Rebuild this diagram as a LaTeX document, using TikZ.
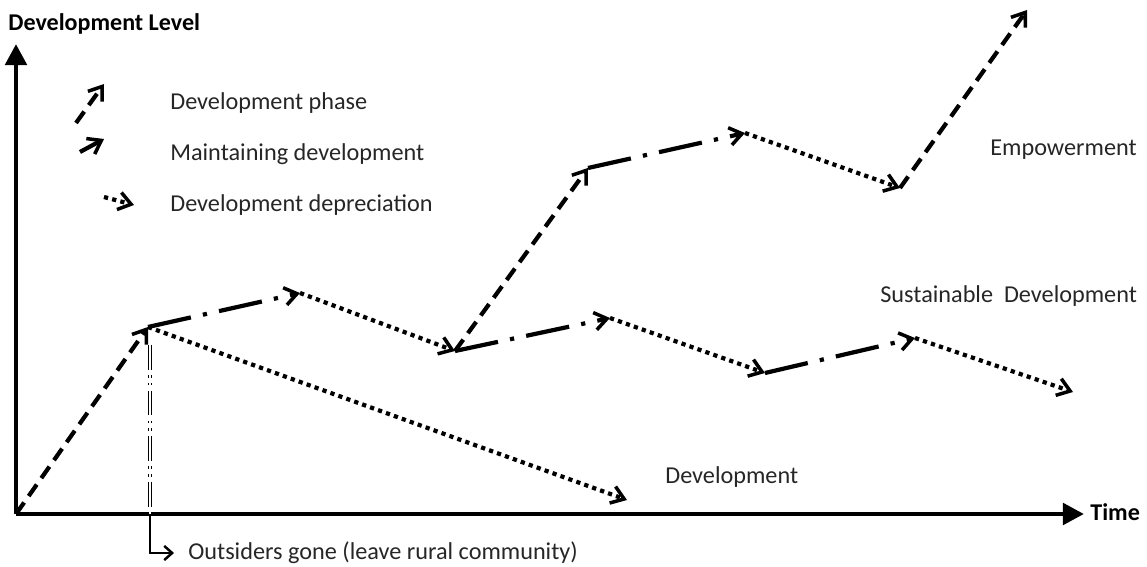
\documentclass[tikz,border=0pt]{standalone}
\usepackage{fontspec}
\setmainfont{Carlito}
\usetikzlibrary{arrows.meta}
\tikzset{
  tip/.style={-{Straight Barb[length=7pt,width=10pt,line width=2pt]}},
  phase/.style={line width=2.4pt, dash pattern=on 8pt off 4.5pt, tip},
  keep/.style={line width=2.4pt, dash pattern=on 25pt off 7pt on 2.4pt off 7pt, tip},
  loss/.style={line width=2.4pt, dash pattern=on 2.4pt off 2.4pt, tip},
  axis/.style={line width=2.8pt, -{Triangle[length=12pt,width=12pt]}},
  lbl/.style={anchor=west, inner sep=0pt, text=black!85, font=\fontsize{13.8}{16}\selectfont},
  axlbl/.style={anchor=west, inner sep=0pt, font=\bfseries\fontsize{13.7}{16}\selectfont}
}
\begin{document}
\begin{tikzpicture}[x=0.02cm, y=-0.02cm]
        \useasboundingbox (0,0) rectangle (1147,567);
        % Define points
        \coordinate (O) at (16,514);
        \coordinate (A) at (148,327);
        \coordinate (A1) at (300,293);
        \coordinate (B) at (455,351);
        \coordinate (C) at (588,168);
        \coordinate (D) at (745,133);
        \coordinate (E) at (900,188);
        \coordinate (F) at (1027,10);
        \coordinate (G) at (610,318);
        \coordinate (H) at (765,373);
        \coordinate (I) at (915,338);
        \coordinate (J) at (1073,392);
        \coordinate (K) at (627,500);
        \coordinate (Ytop) at (16,44);
        \coordinate (Xend) at (1084,514);
        \coordinate (Gone) at (150,345);
        \coordinate (GoneAx) at (150,514);
        \coordinate (GoneLow) at (150,553);
        \coordinate (GoneEnd) at (174,553);

        % Draw axes
        \draw[axis] (O) -- (Ytop);
        \draw[axis] (O) -- (Xend);
        \node[axlbl] (ylab) at (8,24) {Development Level};
        \node[axlbl] (xlab) at (1090,512) {Time};

        % Draw paths
        \draw[phase] (O) -- (A);
        \draw[keep] (A) -- (A1);
        \draw[loss] (A1) -- (B);
        \draw[phase] (B) -- (C);
        \draw[keep] (C) -- (D);
        \draw[loss] (D) -- (E);
        \draw[phase] (E) -- (F);
        \draw[keep] (B) -- (G);
        \draw[loss] (G) -- (H);
        \draw[keep] (H) -- (I);
        \draw[loss] (I) -- (J);
        \draw[loss] (A) -- (K);

        % Outsiders gone
        \draw[line width=0.5pt, double, double distance=1.3pt,
              dash pattern=on 14pt off 3pt on 1.5pt off 3pt on 1.5pt off 3pt] (Gone) -- (GoneAx);
        \draw[line width=1.4pt, -{Straight Barb[length=4.5pt,width=8pt,line width=1.4pt]}] (GoneAx) -- (GoneLow) -- (GoneEnd);
        \node[lbl] (gone) at (188,553) {Outsiders gone (leave rural community)};

        % Labels
        \node[lbl] (emp) at (990,150) {Empowerment};
        \node[lbl] (sus) at (880,296) {Sustainable\ \ Development};
        \node[lbl] (dev) at (665,477) {Development};

        % Legend
        \coordinate (L1a) at (76,123);
        \coordinate (L1b) at (104,84);
        \coordinate (L2a) at (80,152);
        \coordinate (L2b) at (104,139);
        \coordinate (L3a) at (104,197);
        \coordinate (L3b) at (134,205);
        \draw[phase] (L1a) -- (L1b);
        \draw[line width=2.4pt, tip] (L2a) -- (L2b);
        \draw[loss] (L3a) -- (L3b);
        \node[lbl] (leg1) at (170,103) {Development phase};
        \node[lbl] (leg2) at (170,154) {Maintaining development};
        \node[lbl] (leg3) at (170,205) {Development depreciation};
\end{tikzpicture}
\end{document}
